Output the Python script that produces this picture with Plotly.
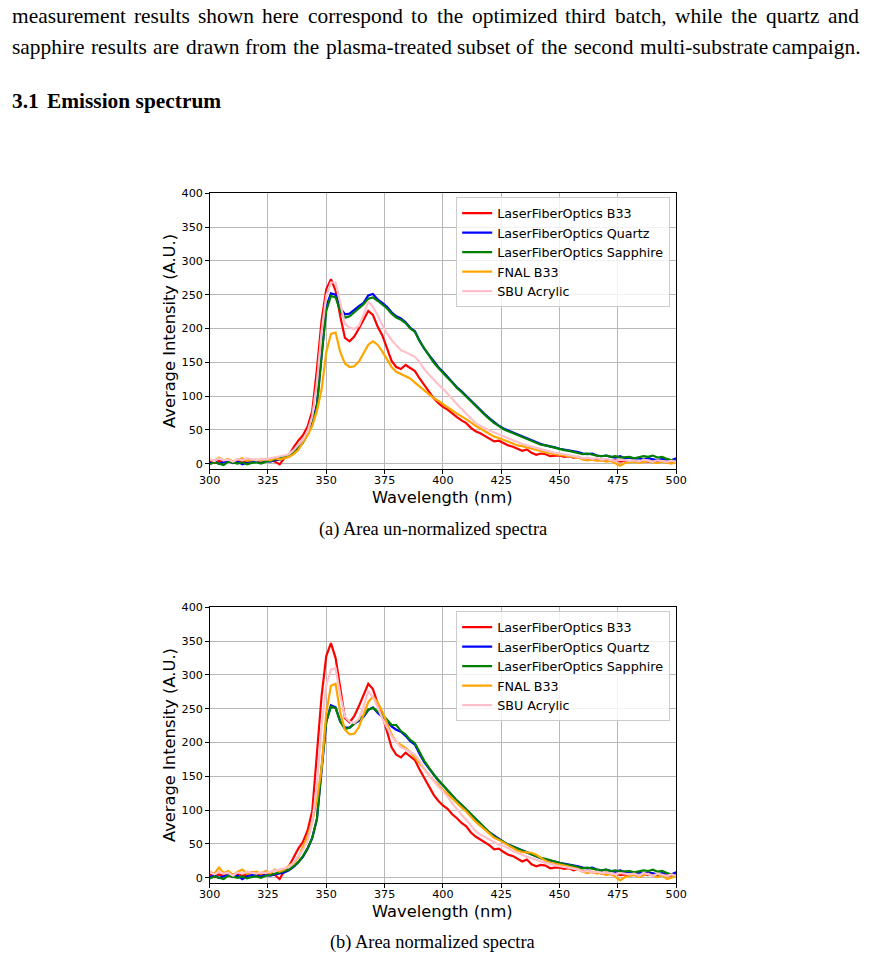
import plotly.graph_objects as go

W, H = 871, 958
# measured mapping from figure pixels to the photographed picture: pic = S * fig + O
SX, OX = 0.9736, 11.6
SY, OY = 0.9925, 4.75

wavelength = list(range(300, 501, 2))
series_names = ["LaserFiberOptics B33", "LaserFiberOptics Quartz", "LaserFiberOptics Sapphire", "FNAL B33", "SBU Acrylic"]
series_colors = ["#ff0000", "#0000ff", "#008000", "#ffa500", "#ffc0cb"]
x_ticks = [300, 325, 350, 375, 400, 425, 450, 475, 500]
y_ticks = [0, 50, 100, 150, 200, 250, 300, 350, 400]

# (a) area un-normalized
red_a = [5, 1, 4, 2, 6, 3, 5, 2, 4, 6,
         3, 5, 4, 6, 3, -1, 8, 13, 24, 34,
         42, 55, 78, 140, 212, 258, 273, 256, 218, 186,
         181, 188, 200, 214, 226, 220, 203, 190, 172, 152,
         143, 140, 146, 141, 137, 126, 116, 106, 97, 90,
         84, 80, 74, 69, 64, 60, 53, 48, 45, 41,
         38, 33, 34, 30, 27, 25, 22, 19, 21, 16,
         13, 15, 14, 11, 12, 12, 10, 11, 9, 10,
         7, 8, 6, 7, 5, 6, 4, 5, 3, 4,
         3, 5, 2, 4, 3, 5, 2, 4, 3, 2,
         4]
blue_a = [1, 3, 0, 2, 4, 1, 3, -1, 2, 4,
          3, 2, 4, 3, 5, 6, 9, 11, 16, 24,
          32, 44, 60, 88, 165, 232, 252, 250, 230, 221,
          222, 228, 233, 238, 249, 251, 243, 238, 232, 224,
          218, 215, 209, 201, 196, 182, 170, 161, 152, 143,
          136, 128, 121, 113, 107, 100, 93, 86, 80, 73,
          67, 61, 56, 52, 49, 46, 43, 40, 37, 34,
          32, 29, 27, 26, 24, 22, 21, 19, 18, 17,
          15, 14, 15, 12, 11, 12, 10, 9, 11, 8,
          9, 7, 8, 6, 8, 7, 5, 7, 6, 5,
          8]
green_a = [-1, 2, 0, -2, 3, 1, 0, 2, -1, 1,
           2, 0, 3, 4, 6, 8, 9, 12, 17, 23,
           31, 43, 58, 85, 160, 226, 248, 246, 226, 216,
           218, 224, 230, 236, 244, 246, 241, 236, 230, 222,
           216, 213, 208, 200, 195, 181, 170, 160, 150, 142,
           134, 127, 120, 112, 106, 99, 92, 85, 79, 72,
           66, 60, 56, 51, 48, 45, 42, 39, 36, 33,
           31, 28, 27, 25, 23, 22, 20, 19, 17, 16,
           14, 15, 13, 12, 11, 12, 10, 11, 9, 10,
           10, 8, 9, 11, 10, 12, 9, 10, 7, 5,
           3]
orange_a = [6, 4, 9, 5, 7, 3, 6, 8, 4, 5,
            6, 4, 7, 5, 8, 6, 8, 10, 14, 20,
            32, 42, 56, 78, 110, 165, 192, 194, 165, 148,
            143, 144, 151, 163, 176, 181, 176, 166, 155, 143,
            136, 133, 130, 126, 120, 114, 109, 103, 97, 93,
            88, 84, 79, 74, 70, 66, 61, 56, 52, 48,
            44, 40, 38, 35, 32, 30, 27, 26, 24, 22,
            20, 18, 17, 15, 14, 13, 12, 11, 10, 9,
            6, 5, 6, 4, 5, 3, 4, 1, -3, 1,
            2, 3, 1, 2, 4, 2, 1, 3, 2, 0,
            2]
pink_a = [7, 4, 8, 5, 6, 3, 7, 5, 8, 6,
          5, 7, 6, 8, 9, 10, 12, 14, 20, 28,
          36, 48, 70, 120, 195, 248, 268, 268, 235, 207,
          201, 199, 204, 220, 240, 232, 220, 205, 193, 183,
          175, 168, 165, 162, 158, 150, 140, 132, 124, 117,
          111, 104, 96, 88, 81, 75, 68, 60, 56, 52,
          49, 46, 43, 41, 38, 34, 31, 29, 27, 25,
          23, 21, 19, 17, 16, 15, 14, 13, 11, 10,
          8, 9, 7, 8, 6, 7, 5, 4, 6, 5,
          4, 5, 3, 6, 4, 3, 5, 4, 3, 4,
          3]

# (b) area normalized
red_b = [6, 1, 5, 3, 8, 4, 6, 3, 5, 8,
         4, 6, 5, 8, 4, -2, 10, 17, 30, 43,
         53, 70, 99, 178, 269, 328, 347, 325, 277, 236,
         230, 239, 254, 272, 287, 279, 258, 241, 218, 193,
         182, 178, 185, 179, 174, 160, 147, 135, 123, 114,
         107, 102, 94, 88, 81, 76, 67, 61, 57, 52,
         48, 42, 43, 38, 34, 32, 28, 24, 27, 20,
         17, 19, 18, 14, 15, 15, 13, 14, 11, 13,
         9, 10, 8, 9, 6, 8, 5, 6, 4, 5,
         4, 6, 3, 5, 4, 6, 3, 5, 4, 3,
         5]
blue_b = [1, 3, 0, 2, 4, 1, 3, -2, 2, 4,
          3, 2, 4, 3, 5, 6, 8, 11, 16, 23,
          31, 43, 59, 87, 163, 231, 255, 252, 231, 222,
          222, 228, 232, 238, 248, 252, 244, 238, 232, 224,
          219, 216, 210, 202, 197, 183, 171, 162, 153, 144,
          137, 129, 122, 114, 108, 101, 93, 86, 80, 73,
          67, 62, 57, 53, 49, 46, 43, 40, 37, 34,
          32, 29, 27, 26, 24, 22, 21, 19, 18, 17,
          15, 14, 15, 12, 11, 12, 10, 9, 11, 8,
          9, 7, 8, 6, 8, 7, 5, 7, 6, 5,
          8]
green_b = [-1, 2, 0, -2, 3, 1, 0, 2, -1, 1,
           2, 0, 3, 4, 6, 8, 9, 12, 17, 23,
           32, 44, 59, 87, 163, 231, 253, 251, 231, 220,
           222, 228, 235, 240, 249, 251, 246, 241, 234, 226,
           226, 217, 212, 204, 199, 185, 173, 163, 153, 145,
           137, 130, 122, 114, 108, 101, 94, 87, 81, 73,
           67, 61, 57, 52, 49, 46, 43, 40, 37, 34,
           32, 29, 28, 26, 23, 22, 20, 19, 17, 16,
           14, 15, 13, 12, 11, 12, 10, 11, 9, 10,
           10, 8, 9, 11, 10, 12, 9, 10, 7, 5,
           3]
orange_b = [9, 6, 15, 7, 10, 4, 9, 12, 6, 7,
            9, 6, 10, 7, 12, 9, 12, 18, 21, 30,
            47, 62, 83, 115, 163, 244, 284, 287, 244, 219,
            212, 213, 223, 241, 260, 268, 260, 246, 229, 212,
            201, 197, 192, 186, 178, 169, 161, 152, 144, 138,
            130, 124, 117, 110, 104, 98, 90, 83, 77, 71,
            65, 59, 56, 52, 47, 44, 40, 38, 38, 37,
            34, 29, 25, 22, 21, 19, 18, 16, 15, 13,
            9, 7, 9, 6, 7, 4, 6, 1, -4, 1,
            3, 4, 1, 3, 6, 3, 1, 4, -2, 0,
            3]
pink_b = [8, 5, 9, 6, 7, 3, 8, 6, 9, 7,
          6, 8, 7, 9, 10, 12, 14, 16, 23, 32,
          41, 55, 81, 138, 224, 285, 308, 310, 270, 238,
          231, 229, 235, 253, 276, 267, 253, 236, 222, 210,
          201, 193, 190, 186, 182, 173, 161, 152, 143, 135,
          128, 120, 110, 101, 93, 86, 78, 69, 64, 60,
          56, 53, 49, 47, 44, 39, 36, 33, 31, 29,
          26, 24, 22, 20, 18, 17, 16, 15, 13, 12,
          9, 10, 8, 9, 7, 8, 6, 5, 7, 6,
          5, 6, 3, 7, 5, 3, 6, 5, 3, 5,
          3]

panel_a = [red_a, blue_a, green_a, orange_a, pink_a]
panel_b = [red_b, blue_b, green_b, orange_b, pink_b]
for arr in panel_a + panel_b:
    assert len(arr) == len(wavelength), len(arr)

para_lines = [
    "measurement results shown here correspond to the optimized third batch, while the quartz and",
    "sapphire results are drawn from the plasma-treated subset of the second multi-substrate campaign.",
]
heading_num = "3.1"
heading_text = "Emission spectrum"
caption_a = "(a) Area un-normalized spectra"
caption_b = "(b) Area normalized spectra"
x_title = "Wavelength (nm)"
y_title = "Average Intensity (A.U.)"

fig = go.Figure()
for i, (name, col) in enumerate(zip(series_names, series_colors)):
    fig.add_trace(go.Scatter(x=wavelength, y=panel_a[i], mode="lines", name=name,
                             line=dict(color=col, width=2.2), xaxis="x", yaxis="y",
                             legend="legend"))
for i, (name, col) in enumerate(zip(series_names, series_colors)):
    fig.add_trace(go.Scatter(x=wavelength, y=panel_b[i], mode="lines", name=name,
                             line=dict(color=col, width=2.2), xaxis="x2", yaxis="y2",
                             legend="legend2"))

PLOT_FONT = "DejaVu Sans"
SERIF = "Liberation Serif"


def fig_x(p):
    return (p - OX) / SX


def fig_y(p):
    return (p - OY) / SY


def px_x(p):
    return max(0.5, fig_x(p)) / W


def px_y(p):
    return 1 - fig_y(p) / H


axis_common = dict(showline=True, mirror=True, linecolor="black", linewidth=1,
                   ticks="outside", ticklen=3.5, tickwidth=0.8, tickcolor="black",
                   showgrid=True, gridcolor="#b8b8b8", gridwidth=0.9, zeroline=False,
                   tickfont=dict(family=PLOT_FONT, size=11.2, color="black"))

legend_common = dict(xanchor="right", yanchor="top",
                     bgcolor="rgba(255,255,255,0.8)", bordercolor="#cccccc", borderwidth=1,
                     font=dict(family=PLOT_FONT, size=12.7, color="black"), itemwidth=30,
                     tracegroupgap=0)

xdom = [px_x(210), px_x(676)]
fig.update_layout(
    width=W, height=H, margin=dict(l=0, r=0, t=0, b=0),
    paper_bgcolor="white", plot_bgcolor="white",
    font=dict(family=PLOT_FONT, color="black"),
    xaxis=dict(domain=xdom, range=[300, 500], tickvals=x_ticks, anchor="y",
               ticklabelstandoff=-3, **axis_common),
    yaxis=dict(domain=[px_y(468), px_y(192)], range=[-8.4, 400], tickvals=y_ticks, anchor="x", **axis_common),
    xaxis2=dict(domain=xdom, range=[300, 500], tickvals=x_ticks, anchor="y2",
                ticklabelstandoff=-3, **axis_common),
    yaxis2=dict(domain=[px_y(882), px_y(606)], range=[-8.4, 400], tickvals=y_ticks, anchor="x2", **axis_common),
    legend=dict(x=px_x(670), y=px_y(196), **legend_common),
    legend2=dict(x=px_x(670), y=px_y(610), **legend_common),
)

annotations = []


def add_text_fig(text, fx, y, size, family, xanchor="center", bold=False, angle=0):
    annotations.append(dict(text=("<b>%s</b>" % text) if bold else text,
                            x=fx / W, y=px_y(y), xref="paper", yref="paper",
                            xanchor=xanchor, yanchor="middle", showarrow=False,
                            borderpad=0, textangle=angle,
                            font=dict(family=family, size=size, color="black")))


def add_text(text, x, y, size, family, xanchor="center", bold=False, angle=0):
    add_text_fig(text, max(0.5, fig_x(x)), y, size, family, xanchor, bold, angle)


# axis titles
add_text(x_title, 443, 496, 16.3, PLOT_FONT)
add_text(y_title, 170, 330, 16.3, PLOT_FONT, angle=-90)
add_text(x_title, 443, 910, 16.3, PLOT_FONT)
add_text(y_title, 170, 744, 16.3, PLOT_FONT, angle=-90)

# captions
add_text(caption_a, 433, 528, 18.4, SERIF)
add_text(caption_b, 433, 941, 18.4, SERIF)

# justified paragraph lines, laid out word by word in figure pixels
TIMES = {'a': 444, 'b': 500, 'c': 444, 'd': 500, 'e': 444, 'f': 333, 'g': 500, 'h': 500,
         'i': 278, 'j': 278, 'k': 500, 'l': 278, 'm': 778, 'n': 500, 'o': 500, 'p': 500,
         'q': 500, 'r': 333, 's': 389, 't': 278, 'u': 500, 'v': 500, 'w': 722, 'x': 500,
         'y': 500, 'z': 444, ',': 250, '.': 250, '-': 333}
BODY = 21.4
left_f, right_f = 0.5, W - 2.5
for line, yc in zip(para_lines, [15, 46]):
    words = line.split(" ")
    widths = [sum(TIMES.get(c, 500) for c in w) * BODY / 1000 for w in words]
    gap = (right_f - left_f - sum(widths)) / (len(words) - 1)
    pos = left_f
    for w, wd in zip(words, widths):
        add_text_fig(w, pos, yc, BODY, SERIF, xanchor="left")
        pos += wd + gap

add_text_fig(heading_num, 0.5, 100, 21.4, SERIF, xanchor="left", bold=True)
add_text_fig(heading_text, 0.5 + 1250 * 21.4 / 1000 + 9, 100, 21.4, SERIF, xanchor="left", bold=True)

fig.update_layout(annotations=annotations)
fig.write_html("out.html")
